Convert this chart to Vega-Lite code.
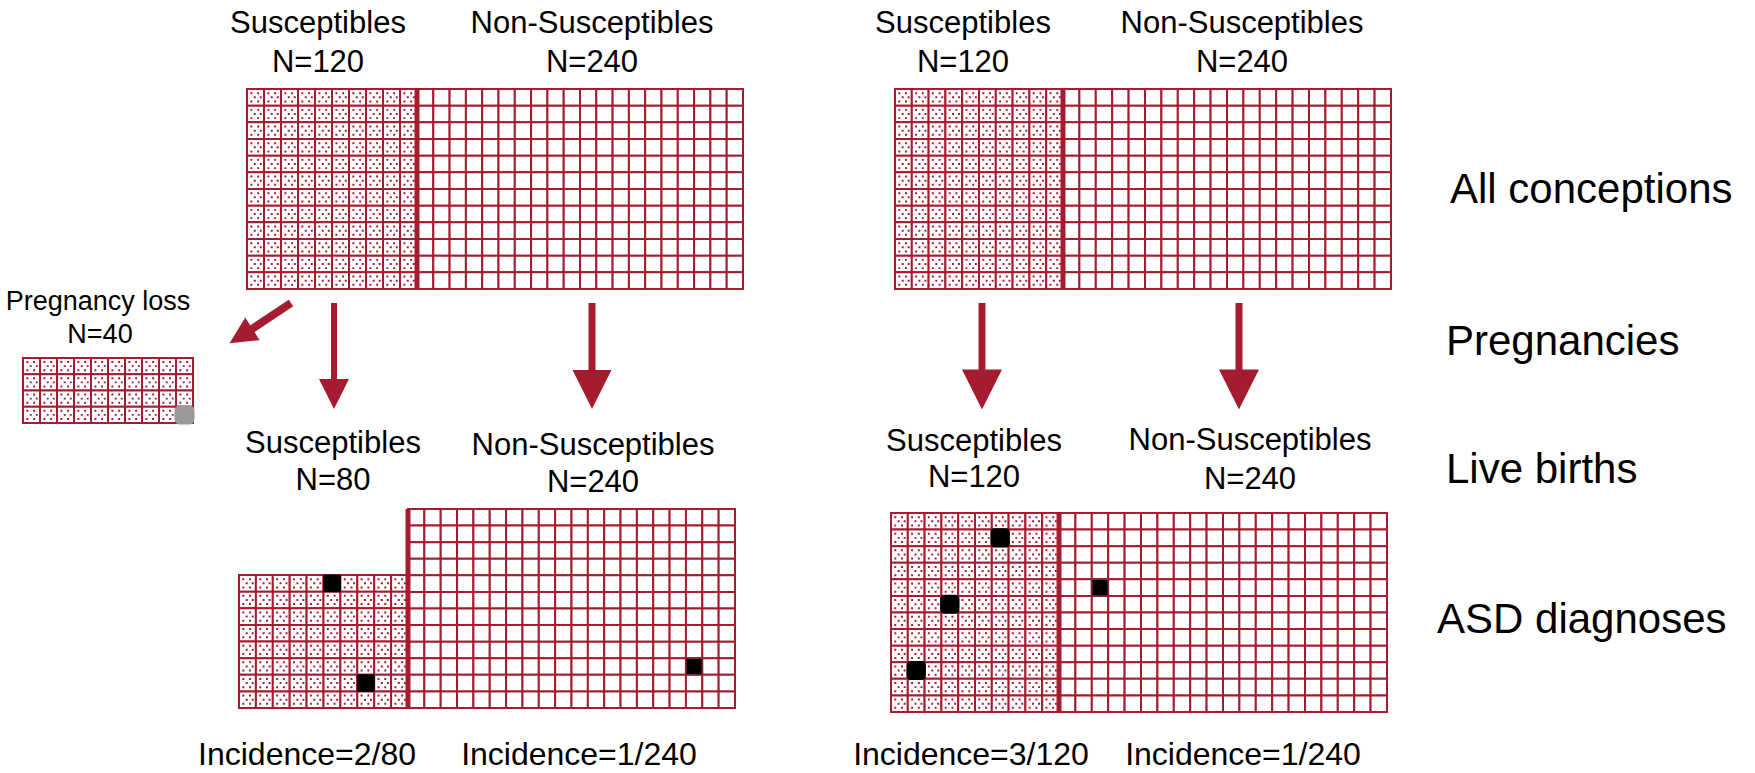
{
"$schema":"https://vega.github.io/schema/vega-lite/v6.json",
"width":1755,"height":773,"autosize":{"type":"fit","contains":"padding"},"padding":0,
"background":"#ffffff",
"config":{"view":{"stroke":null},"font":"Liberation Sans"},
"datasets":{
"cells":[
{"grid":"A_S","r":1,"c":[1,2,3,4,5,6,7,8,9,10]},{"grid":"A_S","r":2,"c":[1,2,3,4,5,6,7,8,9,10]},{"grid":"A_S","r":3,"c":[1,2,3,4,5,6,7,8,9,10]},{"grid":"A_S","r":4,"c":[1,2,3,4,5,6,7,8,9,10]},{"grid":"A_S","r":5,"c":[1,2,3,4,5,6,7,8,9,10]},{"grid":"A_S","r":6,"c":[1,2,3,4,5,6,7,8,9,10]},{"grid":"A_S","r":7,"c":[1,2,3,4,5,6,7,8,9,10]},{"grid":"A_S","r":8,"c":[1,2,3,4,5,6,7,8,9,10]},{"grid":"A_S","r":9,"c":[1,2,3,4,5,6,7,8,9,10]},{"grid":"A_S","r":10,"c":[1,2,3,4,5,6,7,8,9,10]},{"grid":"A_S","r":11,"c":[1,2,3,4,5,6,7,8,9,10]},{"grid":"A_S","r":12,"c":[1,2,3,4,5,6,7,8,9,10]},
{"grid":"A_N","r":1,"c":[1,2,3,4,5,6,7,8,9,10,11,12,13,14,15,16,17,18,19,20]},{"grid":"A_N","r":2,"c":[1,2,3,4,5,6,7,8,9,10,11,12,13,14,15,16,17,18,19,20]},{"grid":"A_N","r":3,"c":[1,2,3,4,5,6,7,8,9,10,11,12,13,14,15,16,17,18,19,20]},{"grid":"A_N","r":4,"c":[1,2,3,4,5,6,7,8,9,10,11,12,13,14,15,16,17,18,19,20]},{"grid":"A_N","r":5,"c":[1,2,3,4,5,6,7,8,9,10,11,12,13,14,15,16,17,18,19,20]},{"grid":"A_N","r":6,"c":[1,2,3,4,5,6,7,8,9,10,11,12,13,14,15,16,17,18,19,20]},{"grid":"A_N","r":7,"c":[1,2,3,4,5,6,7,8,9,10,11,12,13,14,15,16,17,18,19,20]},{"grid":"A_N","r":8,"c":[1,2,3,4,5,6,7,8,9,10,11,12,13,14,15,16,17,18,19,20]},{"grid":"A_N","r":9,"c":[1,2,3,4,5,6,7,8,9,10,11,12,13,14,15,16,17,18,19,20]},{"grid":"A_N","r":10,"c":[1,2,3,4,5,6,7,8,9,10,11,12,13,14,15,16,17,18,19,20]},{"grid":"A_N","r":11,"c":[1,2,3,4,5,6,7,8,9,10,11,12,13,14,15,16,17,18,19,20]},{"grid":"A_N","r":12,"c":[1,2,3,4,5,6,7,8,9,10,11,12,13,14,15,16,17,18,19,20]},
{"grid":"B_S","r":1,"c":[1,2,3,4,5,6,7,8,9,10]},{"grid":"B_S","r":2,"c":[1,2,3,4,5,6,7,8,9,10]},{"grid":"B_S","r":3,"c":[1,2,3,4,5,6,7,8,9,10]},{"grid":"B_S","r":4,"c":[1,2,3,4,5,6,7,8,9,10]},{"grid":"B_S","r":5,"c":[1,2,3,4,5,6,7,8,9,10]},{"grid":"B_S","r":6,"c":[1,2,3,4,5,6,7,8,9,10]},{"grid":"B_S","r":7,"c":[1,2,3,4,5,6,7,8,9,10]},{"grid":"B_S","r":8,"c":[1,2,3,4,5,6,7,8,9,10]},{"grid":"B_S","r":9,"c":[1,2,3,4,5,6,7,8,9,10]},{"grid":"B_S","r":10,"c":[1,2,3,4,5,6,7,8,9,10]},{"grid":"B_S","r":11,"c":[1,2,3,4,5,6,7,8,9,10]},{"grid":"B_S","r":12,"c":[1,2,3,4,5,6,7,8,9,10]},
{"grid":"B_N","r":1,"c":[1,2,3,4,5,6,7,8,9,10,11,12,13,14,15,16,17,18,19,20]},{"grid":"B_N","r":2,"c":[1,2,3,4,5,6,7,8,9,10,11,12,13,14,15,16,17,18,19,20]},{"grid":"B_N","r":3,"c":[1,2,3,4,5,6,7,8,9,10,11,12,13,14,15,16,17,18,19,20]},{"grid":"B_N","r":4,"c":[1,2,3,4,5,6,7,8,9,10,11,12,13,14,15,16,17,18,19,20]},{"grid":"B_N","r":5,"c":[1,2,3,4,5,6,7,8,9,10,11,12,13,14,15,16,17,18,19,20]},{"grid":"B_N","r":6,"c":[1,2,3,4,5,6,7,8,9,10,11,12,13,14,15,16,17,18,19,20]},{"grid":"B_N","r":7,"c":[1,2,3,4,5,6,7,8,9,10,11,12,13,14,15,16,17,18,19,20]},{"grid":"B_N","r":8,"c":[1,2,3,4,5,6,7,8,9,10,11,12,13,14,15,16,17,18,19,20]},{"grid":"B_N","r":9,"c":[1,2,3,4,5,6,7,8,9,10,11,12,13,14,15,16,17,18,19,20]},{"grid":"B_N","r":10,"c":[1,2,3,4,5,6,7,8,9,10,11,12,13,14,15,16,17,18,19,20]},{"grid":"B_N","r":11,"c":[1,2,3,4,5,6,7,8,9,10,11,12,13,14,15,16,17,18,19,20]},{"grid":"B_N","r":12,"c":[1,2,3,4,5,6,7,8,9,10,11,12,13,14,15,16,17,18,19,20]},
{"grid":"L","r":1,"c":[1,2,3,4,5,6,7,8,9,10]},{"grid":"L","r":2,"c":[1,2,3,4,5,6,7,8,9,10]},{"grid":"L","r":3,"c":[1,2,3,4,5,6,7,8,9,10]},{"grid":"L","r":4,"c":[1,2,3,4,5,6,7,8,9,10]},
{"grid":"C_S","r":1,"c":[1,2,3,4,5,6,7,8,9,10]},{"grid":"C_S","r":2,"c":[1,2,3,4,5,6,7,8,9,10]},{"grid":"C_S","r":3,"c":[1,2,3,4,5,6,7,8,9,10]},{"grid":"C_S","r":4,"c":[1,2,3,4,5,6,7,8,9,10]},{"grid":"C_S","r":5,"c":[1,2,3,4,5,6,7,8,9,10]},{"grid":"C_S","r":6,"c":[1,2,3,4,5,6,7,8,9,10]},{"grid":"C_S","r":7,"c":[1,2,3,4,5,6,7,8,9,10]},{"grid":"C_S","r":8,"c":[1,2,3,4,5,6,7,8,9,10]},
{"grid":"C_N","r":1,"c":[1,2,3,4,5,6,7,8,9,10,11,12,13,14,15,16,17,18,19,20]},{"grid":"C_N","r":2,"c":[1,2,3,4,5,6,7,8,9,10,11,12,13,14,15,16,17,18,19,20]},{"grid":"C_N","r":3,"c":[1,2,3,4,5,6,7,8,9,10,11,12,13,14,15,16,17,18,19,20]},{"grid":"C_N","r":4,"c":[1,2,3,4,5,6,7,8,9,10,11,12,13,14,15,16,17,18,19,20]},{"grid":"C_N","r":5,"c":[1,2,3,4,5,6,7,8,9,10,11,12,13,14,15,16,17,18,19,20]},{"grid":"C_N","r":6,"c":[1,2,3,4,5,6,7,8,9,10,11,12,13,14,15,16,17,18,19,20]},{"grid":"C_N","r":7,"c":[1,2,3,4,5,6,7,8,9,10,11,12,13,14,15,16,17,18,19,20]},{"grid":"C_N","r":8,"c":[1,2,3,4,5,6,7,8,9,10,11,12,13,14,15,16,17,18,19,20]},{"grid":"C_N","r":9,"c":[1,2,3,4,5,6,7,8,9,10,11,12,13,14,15,16,17,18,19,20]},{"grid":"C_N","r":10,"c":[1,2,3,4,5,6,7,8,9,10,11,12,13,14,15,16,17,18,19,20]},{"grid":"C_N","r":11,"c":[1,2,3,4,5,6,7,8,9,10,11,12,13,14,15,16,17,18,19,20]},{"grid":"C_N","r":12,"c":[1,2,3,4,5,6,7,8,9,10,11,12,13,14,15,16,17,18,19,20]},
{"grid":"D_S","r":1,"c":[1,2,3,4,5,6,7,8,9,10]},{"grid":"D_S","r":2,"c":[1,2,3,4,5,6,7,8,9,10]},{"grid":"D_S","r":3,"c":[1,2,3,4,5,6,7,8,9,10]},{"grid":"D_S","r":4,"c":[1,2,3,4,5,6,7,8,9,10]},{"grid":"D_S","r":5,"c":[1,2,3,4,5,6,7,8,9,10]},{"grid":"D_S","r":6,"c":[1,2,3,4,5,6,7,8,9,10]},{"grid":"D_S","r":7,"c":[1,2,3,4,5,6,7,8,9,10]},{"grid":"D_S","r":8,"c":[1,2,3,4,5,6,7,8,9,10]},{"grid":"D_S","r":9,"c":[1,2,3,4,5,6,7,8,9,10]},{"grid":"D_S","r":10,"c":[1,2,3,4,5,6,7,8,9,10]},{"grid":"D_S","r":11,"c":[1,2,3,4,5,6,7,8,9,10]},{"grid":"D_S","r":12,"c":[1,2,3,4,5,6,7,8,9,10]},
{"grid":"D_N","r":1,"c":[1,2,3,4,5,6,7,8,9,10,11,12,13,14,15,16,17,18,19,20]},{"grid":"D_N","r":2,"c":[1,2,3,4,5,6,7,8,9,10,11,12,13,14,15,16,17,18,19,20]},{"grid":"D_N","r":3,"c":[1,2,3,4,5,6,7,8,9,10,11,12,13,14,15,16,17,18,19,20]},{"grid":"D_N","r":4,"c":[1,2,3,4,5,6,7,8,9,10,11,12,13,14,15,16,17,18,19,20]},{"grid":"D_N","r":5,"c":[1,2,3,4,5,6,7,8,9,10,11,12,13,14,15,16,17,18,19,20]},{"grid":"D_N","r":6,"c":[1,2,3,4,5,6,7,8,9,10,11,12,13,14,15,16,17,18,19,20]},{"grid":"D_N","r":7,"c":[1,2,3,4,5,6,7,8,9,10,11,12,13,14,15,16,17,18,19,20]},{"grid":"D_N","r":8,"c":[1,2,3,4,5,6,7,8,9,10,11,12,13,14,15,16,17,18,19,20]},{"grid":"D_N","r":9,"c":[1,2,3,4,5,6,7,8,9,10,11,12,13,14,15,16,17,18,19,20]},{"grid":"D_N","r":10,"c":[1,2,3,4,5,6,7,8,9,10,11,12,13,14,15,16,17,18,19,20]},{"grid":"D_N","r":11,"c":[1,2,3,4,5,6,7,8,9,10,11,12,13,14,15,16,17,18,19,20]},{"grid":"D_N","r":12,"c":[1,2,3,4,5,6,7,8,9,10,11,12,13,14,15,16,17,18,19,20]}
],
"cases":[
{"grid":"C_S","r":1,"c":6,"kind":"ASD"},{"grid":"C_S","r":7,"c":8,"kind":"ASD"},{"grid":"C_N","r":10,"c":18,"kind":"ASD"},
{"grid":"D_S","r":2,"c":7,"kind":"ASD"},{"grid":"D_S","r":6,"c":4,"kind":"ASD"},{"grid":"D_S","r":10,"c":2,"kind":"ASD"},{"grid":"D_N","r":5,"c":3,"kind":"ASD"},
{"grid":"L","r":4,"c":10,"kind":"loss"}
],
"dividers":[{"x":417,"y":89,"y2":289},{"x":1063,"y":89,"y2":289},{"x":408,"y":509,"y2":708},{"x":1059,"y":513,"y2":712}],
"shafts":[{"x":334,"y":303,"x2":334,"y2":382,"w":"s"},{"x":592,"y":303,"x2":592,"y2":372,"w":"m"},{"x":982,"y":303,"x2":982,"y2":372,"w":"m"},{"x":1239,"y":303,"x2":1239,"y2":372,"w":"m"},{"x":291,"y":303,"x2":252,"y2":329,"w":"d"}],
"heads":[{"x":334,"y":394,"len":30,"ang":0},{"x":592,"y":389.5,"len":39,"ang":0},{"x":982,"y":389.5,"len":40,"ang":0},{"x":1239,"y":389.5,"len":40,"ang":0},{"x":241,"y":336,"len":27,"ang":57.9}],
"labels":[
{"t":"Susceptibles","x":318,"y":33,"k":"group"},{"t":"N=120","x":318,"y":72,"k":"group"},
{"t":"Non-Susceptibles","x":592,"y":33,"k":"group"},{"t":"N=240","x":592,"y":72,"k":"group"},
{"t":"Susceptibles","x":963,"y":33,"k":"group"},{"t":"N=120","x":963,"y":72,"k":"group"},
{"t":"Non-Susceptibles","x":1242,"y":33,"k":"group"},{"t":"N=240","x":1242,"y":72,"k":"group"},
{"t":"Pregnancy loss","x":98,"y":310,"k":"loss"},{"t":"N=40","x":100,"y":343,"k":"loss"},
{"t":"Susceptibles","x":333,"y":453,"k":"group"},{"t":"N=80","x":333,"y":490,"k":"group"},
{"t":"Non-Susceptibles","x":593,"y":455,"k":"group"},{"t":"N=240","x":593,"y":492,"k":"group"},
{"t":"Susceptibles","x":974,"y":451,"k":"group"},{"t":"N=120","x":974,"y":487,"k":"group"},
{"t":"Non-Susceptibles","x":1250,"y":450,"k":"group"},{"t":"N=240","x":1250,"y":489,"k":"group"},
{"t":"All conceptions","x":1450,"y":203,"k":"stage"},{"t":"Pregnancies","x":1446,"y":355,"k":"stage"},{"t":"Live births","x":1446,"y":483,"k":"stage"},{"t":"ASD diagnoses","x":1437,"y":633,"k":"stage"},
{"t":"Incidence=2/80","x":307,"y":765,"k":"inc"},{"t":"Incidence=1/240","x":579,"y":765,"k":"inc"},{"t":"Incidence=3/120","x":971,"y":765,"k":"inc"},{"t":"Incidence=1/240","x":1243,"y":765,"k":"inc"}
]
},
"layer":[
{"layer":[
 {"data":{"name":"cells"},"transform":[{"filter":"datum.grid==='A_S'"},{"flatten":["c"]}],"mark":{"type":"rect","fill":"#ffffff","stroke":"#A51C30","strokeWidth":2},
  "encoding":{"x":{"field":"c","type":"ordinal","axis":null,"scale":{"domain":[1,2,3,4,5,6,7,8,9,10],"range":[247,417],"paddingInner":0,"paddingOuter":0}},"y":{"field":"r","type":"ordinal","axis":null,"scale":{"domain":[1,2,3,4,5,6,7,8,9,10,11,12],"range":[89,289],"paddingInner":0,"paddingOuter":0}}}},
 {"data":{"name":"cells"},"transform":[{"filter":"datum.grid==='A_S'"},{"flatten":["c"]}],"mark":{"type":"point","shape":"M-0.68,-0.68h0.26v0.26h-0.26z M0.22,-0.68h0.26v0.26h-0.26z M-0.23,-0.13h0.26v0.26h-0.26z M0.57,-0.13h0.26v0.26h-0.26z M-0.68,0.42h0.26v0.26h-0.26z M0.22,0.42h0.26v0.26h-0.26z","filled":true,"opacity":1,"color":"#A51C30","strokeWidth":0,"size":225},
  "encoding":{"x":{"field":"c","type":"ordinal","axis":null,"scale":{"domain":[1,2,3,4,5,6,7,8,9,10],"range":[247,417],"paddingInner":0,"paddingOuter":0}},"y":{"field":"r","type":"ordinal","axis":null,"scale":{"domain":[1,2,3,4,5,6,7,8,9,10,11,12],"range":[89,289],"paddingInner":0,"paddingOuter":0}}}}
]},
{"layer":[
 {"data":{"name":"cells"},"transform":[{"filter":"datum.grid==='A_N'"},{"flatten":["c"]}],"mark":{"type":"rect","fill":"#ffffff","stroke":"#A51C30","strokeWidth":2},
  "encoding":{"x":{"field":"c","type":"ordinal","axis":null,"scale":{"domain":[1,2,3,4,5,6,7,8,9,10,11,12,13,14,15,16,17,18,19,20],"range":[417,743],"paddingInner":0,"paddingOuter":0}},"y":{"field":"r","type":"ordinal","axis":null,"scale":{"domain":[1,2,3,4,5,6,7,8,9,10,11,12],"range":[89,289],"paddingInner":0,"paddingOuter":0}}}}
]},
{"layer":[
 {"data":{"name":"cells"},"transform":[{"filter":"datum.grid==='B_S'"},{"flatten":["c"]}],"mark":{"type":"rect","fill":"#ffffff","stroke":"#A51C30","strokeWidth":2},
  "encoding":{"x":{"field":"c","type":"ordinal","axis":null,"scale":{"domain":[1,2,3,4,5,6,7,8,9,10],"range":[895,1063],"paddingInner":0,"paddingOuter":0}},"y":{"field":"r","type":"ordinal","axis":null,"scale":{"domain":[1,2,3,4,5,6,7,8,9,10,11,12],"range":[89,289],"paddingInner":0,"paddingOuter":0}}}},
 {"data":{"name":"cells"},"transform":[{"filter":"datum.grid==='B_S'"},{"flatten":["c"]}],"mark":{"type":"point","shape":"M-0.68,-0.68h0.26v0.26h-0.26z M0.22,-0.68h0.26v0.26h-0.26z M-0.23,-0.13h0.26v0.26h-0.26z M0.57,-0.13h0.26v0.26h-0.26z M-0.68,0.42h0.26v0.26h-0.26z M0.22,0.42h0.26v0.26h-0.26z","filled":true,"opacity":1,"color":"#A51C30","strokeWidth":0,"size":225},
  "encoding":{"x":{"field":"c","type":"ordinal","axis":null,"scale":{"domain":[1,2,3,4,5,6,7,8,9,10],"range":[895,1063],"paddingInner":0,"paddingOuter":0}},"y":{"field":"r","type":"ordinal","axis":null,"scale":{"domain":[1,2,3,4,5,6,7,8,9,10,11,12],"range":[89,289],"paddingInner":0,"paddingOuter":0}}}}
]},
{"layer":[
 {"data":{"name":"cells"},"transform":[{"filter":"datum.grid==='B_N'"},{"flatten":["c"]}],"mark":{"type":"rect","fill":"#ffffff","stroke":"#A51C30","strokeWidth":2},
  "encoding":{"x":{"field":"c","type":"ordinal","axis":null,"scale":{"domain":[1,2,3,4,5,6,7,8,9,10,11,12,13,14,15,16,17,18,19,20],"range":[1063,1391],"paddingInner":0,"paddingOuter":0}},"y":{"field":"r","type":"ordinal","axis":null,"scale":{"domain":[1,2,3,4,5,6,7,8,9,10,11,12],"range":[89,289],"paddingInner":0,"paddingOuter":0}}}}
]},
{"layer":[
 {"data":{"name":"cells"},"transform":[{"filter":"datum.grid==='L'"},{"flatten":["c"]}],"mark":{"type":"rect","fill":"#ffffff","stroke":"#A51C30","strokeWidth":2},
  "encoding":{"x":{"field":"c","type":"ordinal","axis":null,"scale":{"domain":[1,2,3,4,5,6,7,8,9,10],"range":[23,193],"paddingInner":0,"paddingOuter":0}},"y":{"field":"r","type":"ordinal","axis":null,"scale":{"domain":[1,2,3,4],"range":[358,423],"paddingInner":0,"paddingOuter":0}}}},
 {"data":{"name":"cells"},"transform":[{"filter":"datum.grid==='L'"},{"flatten":["c"]}],"mark":{"type":"point","shape":"M-0.68,-0.68h0.26v0.26h-0.26z M0.22,-0.68h0.26v0.26h-0.26z M-0.23,-0.13h0.26v0.26h-0.26z M0.57,-0.13h0.26v0.26h-0.26z M-0.68,0.42h0.26v0.26h-0.26z M0.22,0.42h0.26v0.26h-0.26z","filled":true,"opacity":1,"color":"#A51C30","strokeWidth":0,"size":225},
  "encoding":{"x":{"field":"c","type":"ordinal","axis":null,"scale":{"domain":[1,2,3,4,5,6,7,8,9,10],"range":[23,193],"paddingInner":0,"paddingOuter":0}},"y":{"field":"r","type":"ordinal","axis":null,"scale":{"domain":[1,2,3,4],"range":[358,423],"paddingInner":0,"paddingOuter":0}}}},
 {"data":{"name":"cases"},"transform":[{"filter":"datum.grid==='L'"}],"mark":{"type":"rect","fill":"#9a9a9a","stroke":"#9a9a9a","strokeWidth":3,"cornerRadius":4},
  "encoding":{"x":{"field":"c","type":"ordinal","axis":null,"scale":{"domain":[1,2,3,4,5,6,7,8,9,10],"range":[23,193],"paddingInner":0,"paddingOuter":0}},"y":{"field":"r","type":"ordinal","axis":null,"scale":{"domain":[1,2,3,4],"range":[358,423],"paddingInner":0,"paddingOuter":0}}}}
]},
{"layer":[
 {"data":{"name":"cells"},"transform":[{"filter":"datum.grid==='C_S'"},{"flatten":["c"]}],"mark":{"type":"rect","fill":"#ffffff","stroke":"#A51C30","strokeWidth":2},
  "encoding":{"x":{"field":"c","type":"ordinal","axis":null,"scale":{"domain":[1,2,3,4,5,6,7,8,9,10],"range":[239,408],"paddingInner":0,"paddingOuter":0}},"y":{"field":"r","type":"ordinal","axis":null,"scale":{"domain":[1,2,3,4,5,6,7,8],"range":[575,708],"paddingInner":0,"paddingOuter":0}}}},
 {"data":{"name":"cells"},"transform":[{"filter":"datum.grid==='C_S'"},{"flatten":["c"]}],"mark":{"type":"point","shape":"M-0.68,-0.68h0.26v0.26h-0.26z M0.22,-0.68h0.26v0.26h-0.26z M-0.23,-0.13h0.26v0.26h-0.26z M0.57,-0.13h0.26v0.26h-0.26z M-0.68,0.42h0.26v0.26h-0.26z M0.22,0.42h0.26v0.26h-0.26z","filled":true,"opacity":1,"color":"#A51C30","strokeWidth":0,"size":225},
  "encoding":{"x":{"field":"c","type":"ordinal","axis":null,"scale":{"domain":[1,2,3,4,5,6,7,8,9,10],"range":[239,408],"paddingInner":0,"paddingOuter":0}},"y":{"field":"r","type":"ordinal","axis":null,"scale":{"domain":[1,2,3,4,5,6,7,8],"range":[575,708],"paddingInner":0,"paddingOuter":0}}}},
 {"data":{"name":"cases"},"transform":[{"filter":"datum.grid==='C_S'"}],"mark":{"type":"rect","fill":"#000000","stroke":"#000000","strokeWidth":1,"cornerRadius":1},
  "encoding":{"x":{"field":"c","type":"ordinal","axis":null,"scale":{"domain":[1,2,3,4,5,6,7,8,9,10],"range":[239,408],"paddingInner":0,"paddingOuter":0}},"y":{"field":"r","type":"ordinal","axis":null,"scale":{"domain":[1,2,3,4,5,6,7,8],"range":[575,708],"paddingInner":0,"paddingOuter":0}}}}
]},
{"layer":[
 {"data":{"name":"cells"},"transform":[{"filter":"datum.grid==='C_N'"},{"flatten":["c"]}],"mark":{"type":"rect","fill":"#ffffff","stroke":"#A51C30","strokeWidth":2},
  "encoding":{"x":{"field":"c","type":"ordinal","axis":null,"scale":{"domain":[1,2,3,4,5,6,7,8,9,10,11,12,13,14,15,16,17,18,19,20],"range":[408,735],"paddingInner":0,"paddingOuter":0}},"y":{"field":"r","type":"ordinal","axis":null,"scale":{"domain":[1,2,3,4,5,6,7,8,9,10,11,12],"range":[509,708],"paddingInner":0,"paddingOuter":0}}}},
 {"data":{"name":"cases"},"transform":[{"filter":"datum.grid==='C_N'"}],"mark":{"type":"rect","fill":"#000000","stroke":"#7a2a34","strokeWidth":1.5,"cornerRadius":1},
  "encoding":{"x":{"field":"c","type":"ordinal","axis":null,"scale":{"domain":[1,2,3,4,5,6,7,8,9,10,11,12,13,14,15,16,17,18,19,20],"range":[408,735],"paddingInner":0,"paddingOuter":0}},"y":{"field":"r","type":"ordinal","axis":null,"scale":{"domain":[1,2,3,4,5,6,7,8,9,10,11,12],"range":[509,708],"paddingInner":0,"paddingOuter":0}}}}
]},
{"layer":[
 {"data":{"name":"cells"},"transform":[{"filter":"datum.grid==='D_S'"},{"flatten":["c"]}],"mark":{"type":"rect","fill":"#ffffff","stroke":"#A51C30","strokeWidth":2},
  "encoding":{"x":{"field":"c","type":"ordinal","axis":null,"scale":{"domain":[1,2,3,4,5,6,7,8,9,10],"range":[891,1059],"paddingInner":0,"paddingOuter":0}},"y":{"field":"r","type":"ordinal","axis":null,"scale":{"domain":[1,2,3,4,5,6,7,8,9,10,11,12],"range":[513,712],"paddingInner":0,"paddingOuter":0}}}},
 {"data":{"name":"cells"},"transform":[{"filter":"datum.grid==='D_S'"},{"flatten":["c"]}],"mark":{"type":"point","shape":"M-0.68,-0.68h0.26v0.26h-0.26z M0.22,-0.68h0.26v0.26h-0.26z M-0.23,-0.13h0.26v0.26h-0.26z M0.57,-0.13h0.26v0.26h-0.26z M-0.68,0.42h0.26v0.26h-0.26z M0.22,0.42h0.26v0.26h-0.26z","filled":true,"opacity":1,"color":"#A51C30","strokeWidth":0,"size":225},
  "encoding":{"x":{"field":"c","type":"ordinal","axis":null,"scale":{"domain":[1,2,3,4,5,6,7,8,9,10],"range":[891,1059],"paddingInner":0,"paddingOuter":0}},"y":{"field":"r","type":"ordinal","axis":null,"scale":{"domain":[1,2,3,4,5,6,7,8,9,10,11,12],"range":[513,712],"paddingInner":0,"paddingOuter":0}}}},
 {"data":{"name":"cases"},"transform":[{"filter":"datum.grid==='D_S'"}],"mark":{"type":"rect","fill":"#000000","stroke":"#000000","strokeWidth":2.5,"cornerRadius":3},
  "encoding":{"x":{"field":"c","type":"ordinal","axis":null,"scale":{"domain":[1,2,3,4,5,6,7,8,9,10],"range":[891,1059],"paddingInner":0,"paddingOuter":0}},"y":{"field":"r","type":"ordinal","axis":null,"scale":{"domain":[1,2,3,4,5,6,7,8,9,10,11,12],"range":[513,712],"paddingInner":0,"paddingOuter":0}}}}
]},
{"layer":[
 {"data":{"name":"cells"},"transform":[{"filter":"datum.grid==='D_N'"},{"flatten":["c"]}],"mark":{"type":"rect","fill":"#ffffff","stroke":"#A51C30","strokeWidth":2},
  "encoding":{"x":{"field":"c","type":"ordinal","axis":null,"scale":{"domain":[1,2,3,4,5,6,7,8,9,10,11,12,13,14,15,16,17,18,19,20],"range":[1059,1387],"paddingInner":0,"paddingOuter":0}},"y":{"field":"r","type":"ordinal","axis":null,"scale":{"domain":[1,2,3,4,5,6,7,8,9,10,11,12],"range":[513,712],"paddingInner":0,"paddingOuter":0}}}},
 {"data":{"name":"cases"},"transform":[{"filter":"datum.grid==='D_N'"}],"mark":{"type":"rect","fill":"#000000","stroke":"#7a2a34","strokeWidth":1.5,"cornerRadius":1},
  "encoding":{"x":{"field":"c","type":"ordinal","axis":null,"scale":{"domain":[1,2,3,4,5,6,7,8,9,10,11,12,13,14,15,16,17,18,19,20],"range":[1059,1387],"paddingInner":0,"paddingOuter":0}},"y":{"field":"r","type":"ordinal","axis":null,"scale":{"domain":[1,2,3,4,5,6,7,8,9,10,11,12],"range":[513,712],"paddingInner":0,"paddingOuter":0}}}}
]},
{"layer":[
 {"data":{"name":"dividers"},"mark":{"type":"rule","color":"#A51C30","strokeWidth":5},
  "encoding":{"x":{"field":"x","type":"quantitative","axis":null,"scale":{"domain":[0,1755],"range":[0,1755],"nice":false,"zero":false}},"y":{"field":"y","type":"quantitative","axis":null,"scale":{"domain":[0,773],"range":[0,773],"nice":false,"zero":false}},"y2":{"field":"y2"}}},
 {"data":{"name":"shafts"},"mark":{"type":"rule","color":"#A51C30"},
  "encoding":{"x":{"field":"x","type":"quantitative","axis":null,"scale":{"domain":[0,1755],"range":[0,1755],"nice":false,"zero":false}},"y":{"field":"y","type":"quantitative","axis":null,"scale":{"domain":[0,773],"range":[0,773],"nice":false,"zero":false}},"x2":{"field":"x2"},"y2":{"field":"y2"},
   "strokeWidth":{"field":"w","type":"nominal","legend":null,"scale":{"domain":["s","m","d"],"range":[6,8,2.5]}}}},
 {"data":{"name":"heads"},"mark":{"type":"point","filled":true,"opacity":1,"color":"#A51C30","shape":"M-1,-1L1,-1L0,1Z","strokeWidth":0},
  "encoding":{"x":{"field":"x","type":"quantitative","axis":null,"scale":{"domain":[0,1755],"range":[0,1755],"nice":false,"zero":false}},"y":{"field":"y","type":"quantitative","axis":null,"scale":{"domain":[0,773],"range":[0,773],"nice":false,"zero":false}},
   "size":{"field":"len","type":"quantitative","legend":null,"scale":{"type":"pow","exponent":2,"domain":[0,40],"range":[0,1600]}},
   "angle":{"field":"ang","type":"quantitative","legend":null,"scale":{"domain":[0,360],"range":[0,360]}}}},
 {"data":{"name":"labels"},"transform":[{"filter":"datum.k==='group'"}],"mark":{"type":"text","fontSize":31,"align":"center","baseline":"alphabetic","color":"#000000","font":"Liberation Sans"},
  "encoding":{"x":{"field":"x","type":"quantitative","axis":null,"scale":{"domain":[0,1755],"range":[0,1755],"nice":false,"zero":false}},"y":{"field":"y","type":"quantitative","axis":null,"scale":{"domain":[0,773],"range":[0,773],"nice":false,"zero":false}},"text":{"field":"t"}}},
 {"data":{"name":"labels"},"transform":[{"filter":"datum.k==='loss'"}],"mark":{"type":"text","fontSize":27,"align":"center","baseline":"alphabetic","color":"#000000","font":"Liberation Sans"},
  "encoding":{"x":{"field":"x","type":"quantitative","axis":null,"scale":{"domain":[0,1755],"range":[0,1755],"nice":false,"zero":false}},"y":{"field":"y","type":"quantitative","axis":null,"scale":{"domain":[0,773],"range":[0,773],"nice":false,"zero":false}},"text":{"field":"t"}}},
 {"data":{"name":"labels"},"transform":[{"filter":"datum.k==='stage'"}],"mark":{"type":"text","fontSize":42,"align":"left","baseline":"alphabetic","color":"#000000","font":"Liberation Sans"},
  "encoding":{"x":{"field":"x","type":"quantitative","axis":null,"scale":{"domain":[0,1755],"range":[0,1755],"nice":false,"zero":false}},"y":{"field":"y","type":"quantitative","axis":null,"scale":{"domain":[0,773],"range":[0,773],"nice":false,"zero":false}},"text":{"field":"t"}}},
 {"data":{"name":"labels"},"transform":[{"filter":"datum.k==='inc'"}],"mark":{"type":"text","fontSize":32,"align":"center","baseline":"alphabetic","color":"#000000","font":"Liberation Sans"},
  "encoding":{"x":{"field":"x","type":"quantitative","axis":null,"scale":{"domain":[0,1755],"range":[0,1755],"nice":false,"zero":false}},"y":{"field":"y","type":"quantitative","axis":null,"scale":{"domain":[0,773],"range":[0,773],"nice":false,"zero":false}},"text":{"field":"t"}}}
]}
],
"resolve":{"scale":{"x":"independent","y":"independent"}}
}
